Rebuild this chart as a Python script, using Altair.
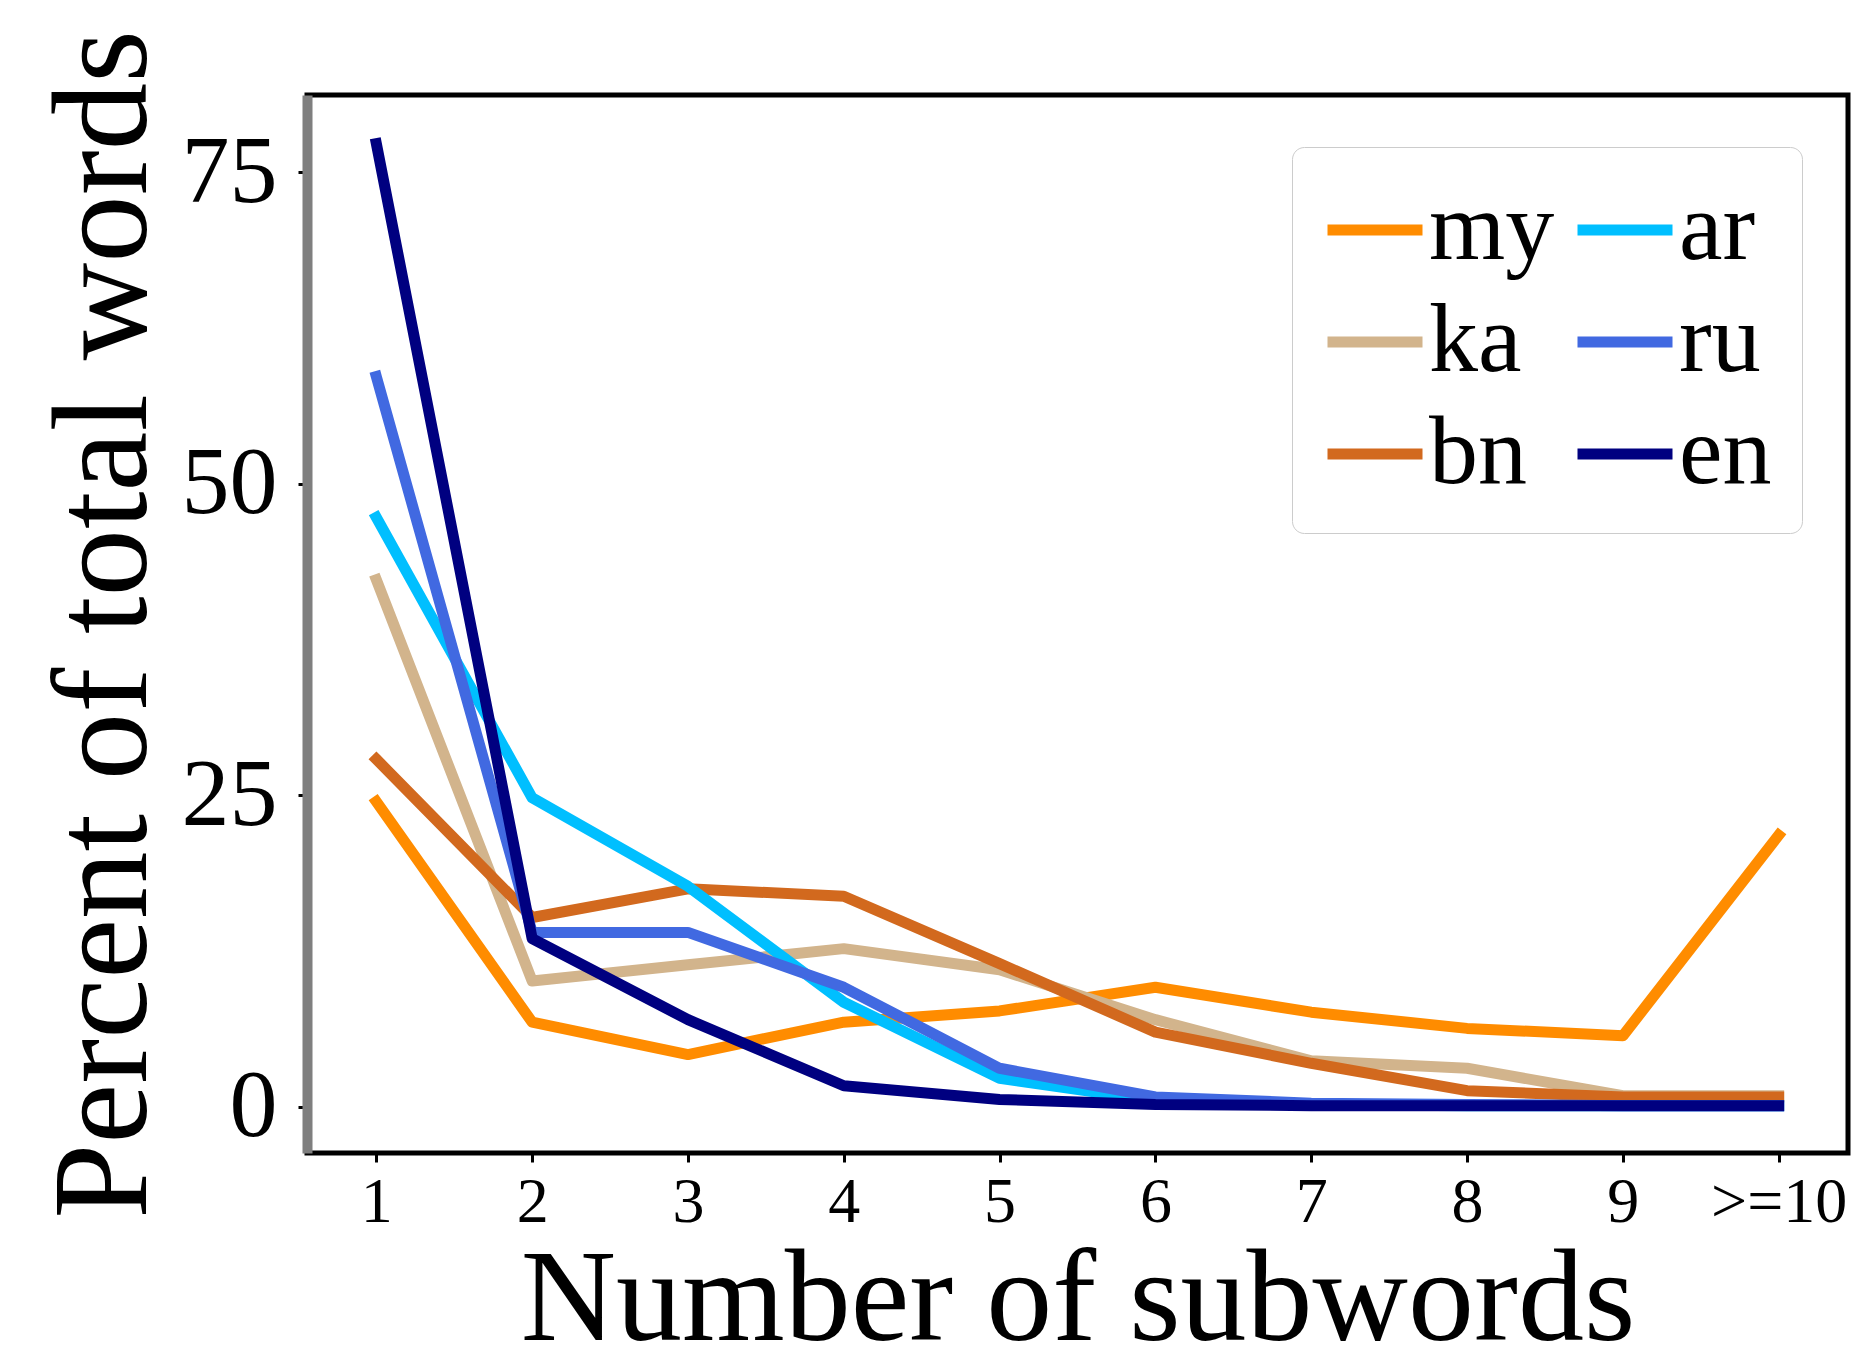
import altair as alt
import pandas as pd

categories = ["1", "2", "3", "4", "5", "6", "7", "8", "9", ">=10"]
languages = ["my", "ka", "bn", "ar", "ru", "en"]
colors = {"my": "#ff8c00", "ka": "#d2b48c", "bn": "#d2691e",
          "ar": "#00bfff", "ru": "#4169e1", "en": "#000080"}

my = [24.5, 6.8, 4.2, 6.8, 7.7, 9.6, 7.6, 6.3, 5.7, 21.8]
ka = [42.3, 10.1, 11.4, 12.7, 11.0, 7.0, 3.7, 3.1, 0.9, 0.9]
bn = [27.9, 15.2, 17.5, 16.9, 11.5, 6.0, 3.5, 1.3, 0.8, 0.8]
ar = [47.3, 24.8, 17.7, 8.4, 2.3, 0.5, 0.2, 0.1, 0.1, 0.1]
ru = [58.6, 14.0, 14.0, 9.6, 3.1, 0.8, 0.3, 0.2, 0.1, 0.1]
en = [77.3, 13.5, 7.0, 1.7, 0.6, 0.2, 0.1, 0.1, 0.1, 0.1]

series = {"my": my, "ka": ka, "bn": bn, "ar": ar, "ru": ru, "en": en}
rows = []
for lang in languages:
    for c, v in zip(categories, series[lang]):
        rows.append({"lang": lang, "n": c, "pct": v})
df = pd.DataFrame(rows)

FONT = "Liberation Serif"

x_enc = alt.X("n:O", sort=categories,
              scale=alt.Scale(type="point", padding=0.445),
              axis=alt.Axis(title="Number of subwords", labelAngle=0,
                            labelFontSize=64, labelFont=FONT, labelColor="black",
                            titleFontSize=132, titleFont=FONT, titleFontWeight="normal",
                            titleColor="black", titleBaseline="alphabetic", titleY=186,
                            domain=False, ticks=True, tickSize=9, tickWidth=3,
                            tickColor="black", labelPadding=8, grid=False))
y_enc = alt.Y("pct:Q",
              scale=alt.Scale(domain=[-3.7, 81.2], nice=False, zero=False),
              axis=alt.Axis(title="Percent of total words", values=[0, 25, 50, 75],
                            labelFontSize=96, labelFont=FONT, labelColor="black",
                            titleFontSize=135, titleFont=FONT, titleFontWeight="normal",
                            titleColor="black", titleAngle=270, titleBaseline="alphabetic",
                            titleX=-162, titleY=529,
                            domain=True, domainColor="#7f7f7f", domainWidth=10,
                            ticks=True, tickSize=9, tickWidth=3, tickColor="black",
                            labelPadding=21, grid=False, zindex=1))
color_enc = alt.Color("lang:N",
                      scale=alt.Scale(domain=languages,
                                      range=[colors[l] for l in languages]),
                      legend=alt.Legend(title=None, orient="none", legendX=985, legendY=52,
                                        columns=2, symbolType="stroke", symbolSize=9025,
                                        symbolStrokeWidth=11, labelFontSize=98,
                                        labelFont=FONT, labelColor="black", labelOffset=1,
                                        columnPadding=0, rowPadding=10, padding=30,
                                        strokeColor="#cccccc", cornerRadius=12,
                                        fillColor="white"))

layers = []
for lang in languages:
    layers.append(
        alt.Chart(df).transform_filter(alt.datum.lang == lang)
        .mark_line(strokeWidth=11, strokeCap="square", strokeJoin="round")
        .encode(x=x_enc, y=y_enc, color=color_enc)
    )

chart = alt.layer(*layers).properties(
    width=1541, height=1058,
    autosize=alt.AutoSizeParams(type="none"),
    padding={"left": 307, "top": 95, "right": 23, "bottom": 199},
    background="white",
).configure_view(stroke="black", strokeWidth=5)

chart.save("out.html", embed_options={"renderer": "svg", "actions": False})
